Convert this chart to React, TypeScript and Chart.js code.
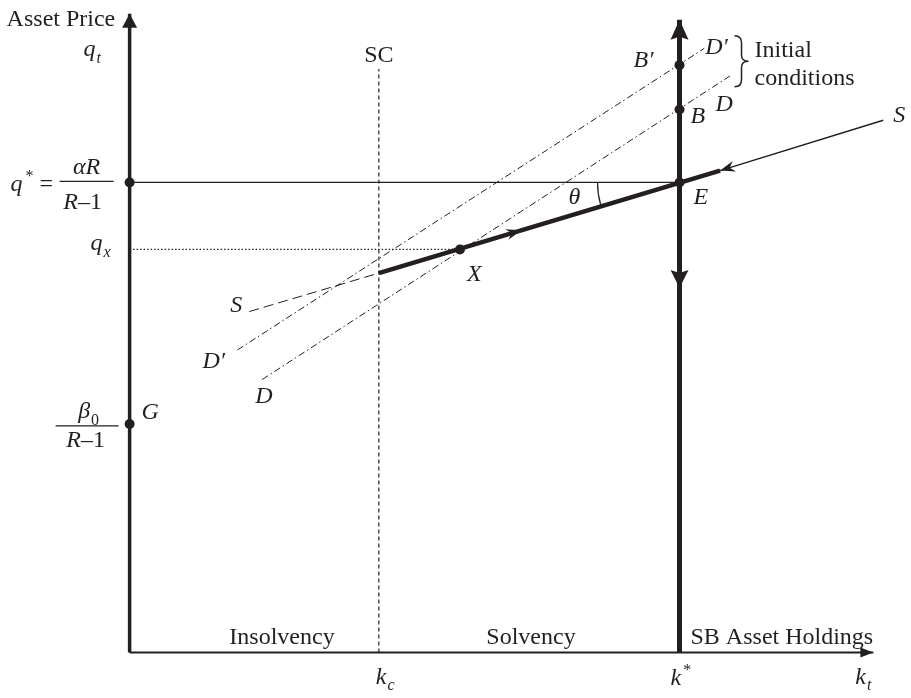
import React, { useEffect, useRef } from "react";
import { Chart, registerables } from "chart.js";
Chart.register(...registerables);

const INK = "#231f20";
const SERIF = '"Liberation Serif", "Times New Roman", serif';

// key levels (data units)
const qStar = 477;
const qX = 409;
const gLevel = 232;
const kC = 252;
const kStar = 556;
const kMax = 752;
const qMax = 648;

const kAxis = [{ x: 0, y: 0 }, { x: kMax, y: 0 }];
const qAxis = [{ x: 0, y: 0 }, { x: 0, y: qMax }];
const kStarAxis = [{ x: kStar, y: 0 }, { x: kStar, y: 642 }];
const kStarDownTip = [{ x: kStar, y: 370 }];
const scLine = [{ x: kC, y: 0 }, { x: kC, y: 592 }];
const qStarLine = [{ x: 0, y: qStar }, { x: kStar, y: qStar }];
const qxLine = [{ x: 0, y: qX }, { x: 334, y: qX }];
const saddleStable = [{ x: kC, y: 385 }, { x: 597, y: 489 }];
const saddleOuter = [{ x: 597, y: 489 }, { x: 762, y: 540 }];
const saddleInsolvent = [{ x: 121, y: 346 }, { x: kC, y: 385 }];
const dLine = [{ x: 134, y: 277 }, { x: 607, y: 585 }];
const dPrimeLine = [{ x: 109, y: 307 }, { x: 581, y: 613 }];
const pointE = { x: kStar, y: qStar };
const pointB = { x: kStar, y: 551 };
const pointBp = { x: kStar, y: 596 };
const pointX = { x: 334, y: qX };
const pointG = { x: 0, y: gLevel };
const pointQ = { x: 0, y: qStar };
const markedPoints = [pointQ, pointG, pointE, pointB, pointBp, pointX];
const flowArrowStable = { x: 396, y: 428.5 };
const flowArrowOuter = { x: 597, y: 489 };
const regionLabels = ["Insolvency", "Solvency", "SB Asset Holdings"];

type Seg = { t: string; it?: boolean; sub?: boolean; sup?: boolean; dx?: number };

function rich(ctx: CanvasRenderingContext2D, segs: Seg[], x: number, y: number, size: number, align: "left" | "center" | "right" = "left") {
  const fontFor = (s: Seg) => `${s.it ? "italic " : ""}${s.sub || s.sup ? Math.round(size * 0.66) : size}px ${SERIF}`;
  let w = 0;
  for (const s of segs) {
    ctx.font = fontFor(s);
    w += ctx.measureText(s.t).width + (s.dx || 0);
  }
  let cx = align === "center" ? x - w / 2 : align === "right" ? x - w : x;
  ctx.textAlign = "left";
  ctx.textBaseline = "alphabetic";
  for (const s of segs) {
    ctx.font = fontFor(s);
    cx += s.dx || 0;
    const oy = s.sub ? size * 0.28 : s.sup ? -size * 0.42 : 0;
    ctx.fillText(s.t, cx, y + oy);
    cx += ctx.measureText(s.t).width;
  }
}

function arrowHead(ctx: CanvasRenderingContext2D, tx: number, ty: number, dx: number, dy: number, len: number, half: number, notch: number) {
  const m = Math.hypot(dx, dy);
  const ux = dx / m, uy = dy / m;
  const nx = -uy, ny = ux;
  ctx.beginPath();
  ctx.moveTo(tx, ty);
  ctx.lineTo(tx - ux * len + nx * half, ty - uy * len + ny * half);
  ctx.lineTo(tx - ux * (len - notch), ty - uy * (len - notch));
  ctx.lineTo(tx - ux * len - nx * half, ty - uy * len - ny * half);
  ctx.closePath();
  ctx.fill();
}

const annotate = {
  id: "annotate",
  afterDatasetsDraw(chart: any) {
    const ctx: CanvasRenderingContext2D = chart.ctx;
    const xs = chart.scales.x, ys = chart.scales.y;
    const X = (v: number) => xs.getPixelForValue(v);
    const Y = (v: number) => ys.getPixelForValue(v);
    ctx.save();
    ctx.fillStyle = INK;
    ctx.strokeStyle = INK;

    // axis arrowheads
    arrowHead(ctx, X(0), Y(qMax), 0, -1, 14, 7.5, 0);
    arrowHead(ctx, X(kMax), Y(0), 1, 0, 13, 5, 0);
    arrowHead(ctx, X(kStar), Y(kStarAxis[1].y), 0, -1, 20, 9, 3);
    arrowHead(ctx, X(kStar), Y(kStarDownTip[0].y), 0, 1, 18, 9, 3);

    // flow arrows along saddle path
    const sdx = X(saddleStable[1].x) - X(saddleStable[0].x);
    const sdy = Y(saddleStable[1].y) - Y(saddleStable[0].y);
    arrowHead(ctx, X(flowArrowStable.x), Y(flowArrowStable.y), sdx, sdy, 15, 5.5, 5);
    const odx = X(saddleOuter[0].x) - X(saddleOuter[1].x);
    const ody = Y(saddleOuter[0].y) - Y(saddleOuter[1].y);
    arrowHead(ctx, X(flowArrowOuter.x), Y(flowArrowOuter.y), odx, ody, 15, 5.5, 5);

    // theta arc
    const ex = X(pointE.x), ey = Y(pointE.y);
    const ang = Math.atan2(-sdy, sdx);
    ctx.lineWidth = 1.2;
    ctx.beginPath();
    ctx.arc(ex, ey, 82, Math.PI - ang, Math.PI);
    ctx.stroke();

    // fraction bars
    const x0 = X(0);
    ctx.lineWidth = 1.2;
    ctx.beginPath();
    ctx.moveTo(x0 - 70, Y(qStar) - 1);
    ctx.lineTo(x0 - 16, Y(qStar) - 1);
    ctx.moveTo(x0 - 74, Y(gLevel) + 2);
    ctx.lineTo(x0 - 11, Y(gLevel) + 2);
    ctx.stroke();

    // brace
    const bx = X(kStar) + 55;
    const bt = Y(qMax) + 22, bb = bt + 51, bm = (bt + bb) / 2;
    ctx.lineWidth = 1.5;
    ctx.beginPath();
    ctx.moveTo(bx, bt);
    ctx.quadraticCurveTo(bx + 7, bt, bx + 7, bt + 7);
    ctx.lineTo(bx + 7, bm - 6);
    ctx.quadraticCurveTo(bx + 7, bm, bx + 14, bm);
    ctx.quadraticCurveTo(bx + 7, bm, bx + 7, bm + 6);
    ctx.lineTo(bx + 7, bb - 7);
    ctx.quadraticCurveTo(bx + 7, bb, bx, bb);
    ctx.stroke();

    const R = 24; // roman size
    const I = 24; // italic size
    rich(ctx, [{ t: "Asset Price" }], x0 - 123, Y(qMax) + 12, R);
    rich(ctx, [{ t: "q", it: true }, { t: "t", it: true, sub: true, dx: 1 }], x0 - 46, Y(qMax) + 42, I);
    rich(ctx, [{ t: "q", it: true }, { t: "*", sup: true, dx: 3 }, { t: " =" }], x0 - 119, Y(qStar) + 9, I);
    rich(ctx, [{ t: "αR", it: true }], x0 - 43, Y(qStar) - 8, I, "center");
    rich(ctx, [{ t: "R", it: true }, { t: "–1" }], x0 - 47, Y(qStar) + 27, I, "center");
    rich(ctx, [{ t: "q", it: true }, { t: "x", it: true, sub: true, dx: 1 }], x0 - 19, Y(qX) + 1, I, "right");
    rich(ctx, [{ t: "β", it: true }, { t: "0", sub: true, dx: 1 }], x0 - 41, Y(gLevel) - 6, I, "center");
    rich(ctx, [{ t: "R", it: true }, { t: "–1" }], x0 - 44, Y(gLevel) + 23, I, "center");
    rich(ctx, [{ t: "G", it: true }], x0 + 12, Y(gLevel) - 5, I);
    rich(ctx, [{ t: "SC" }], X(kC), Y(scLine[1].y) - 7, R, "center");

    const ks = X(kStar);
    rich(ctx, [{ t: "B′", it: true }], ks - 46, Y(pointBp.y) + 2, I);
    rich(ctx, [{ t: "D′", it: true }], X(dPrimeLine[1].x) + 1, Y(dPrimeLine[1].y) + 6, I);
    rich(ctx, [{ t: "Initial" }], bx + 20, bt + 21, R);
    rich(ctx, [{ t: "conditions" }], bx + 20, bt + 49, R);
    rich(ctx, [{ t: "B", it: true }], ks + 11, Y(pointB.y) + 14, I);
    rich(ctx, [{ t: "D", it: true }], ks + 36, Y(pointB.y) + 2, I);
    rich(ctx, [{ t: "S", it: true }], X(saddleOuter[1].x) + 10, Y(saddleOuter[1].y) + 2, I);
    rich(ctx, [{ t: "E", it: true }], ex + 14, ey + 22, I);
    rich(ctx, [{ t: "θ", it: true }], ex - 111, ey + 22, I);
    rich(ctx, [{ t: "X", it: true }], X(pointX.x) + 7, Y(pointX.y) + 32, I);
    rich(ctx, [{ t: "S", it: true }], X(saddleInsolvent[0].x) - 19, Y(saddleInsolvent[0].y), I);
    rich(ctx, [{ t: "D′", it: true }], X(dPrimeLine[0].x) - 35, Y(dPrimeLine[0].y) + 18, I);
    rich(ctx, [{ t: "D", it: true }], X(dLine[0].x) - 7, Y(dLine[0].y) + 23, I);

    const yb = Y(0);
    rich(ctx, [{ t: regionLabels[0] }], 282, yb - 9, R, "center");
    rich(ctx, [{ t: regionLabels[1] }], 531, yb - 9, R, "center");
    rich(ctx, [{ t: regionLabels[2] }], ks + 11, yb - 9, R);
    rich(ctx, [{ t: "k", it: true }, { t: "c", it: true, sub: true, dx: 1 }], X(kC) - 3, yb + 31, I);
    rich(ctx, [{ t: "k", it: true }, { t: "*", sup: true, dx: 2 }], ks - 9, yb + 32, I);
    rich(ctx, [{ t: "k", it: true }, { t: "t", it: true, sub: true, dx: 1 }], X(kMax) - 18, yb + 31, I);

    ctx.restore();
  },
};

function line(data: { x: number; y: number }[], width: number, dash: number[] = []) {
  return {
    data,
    showLine: true,
    borderColor: INK,
    borderWidth: width,
    borderDash: dash,
    pointRadius: 0,
    fill: false,
    clip: false,
  };
}

export default function App() {
  const ref = useRef<HTMLCanvasElement>(null);
  useEffect(() => {
    document.body.style.margin = "0";
    const chart = new Chart(ref.current!, {
      type: "scatter",
      data: {
        datasets: [
          {
            data: markedPoints,
            pointRadius: 5,
            pointBackgroundColor: INK,
            pointBorderWidth: 0,
            showLine: false,
            clip: false,
          } as any,
          line(qAxis, 3.5),
          line(kAxis, 2),
          line(kStarAxis, 5),
          line(saddleStable, 4.5),
          line(saddleOuter, 1.5),
          line(saddleInsolvent, 1, [10, 5]),
          line(qStarLine, 1.2),
          line(qxLine, 1.3, [1.5, 2]),
          line(scLine, 1.2, [4, 3]),
          line(dLine, 1, [7, 3, 1.5, 3]),
          line(dPrimeLine, 1, [7, 3, 1.5, 3]),
        ],
      },
      options: {
        animation: false,
        responsive: false,
        events: [],
        layout: { padding: 0 },
        plugins: { legend: { display: false }, tooltip: { enabled: false } },
        scales: {
          x: { type: "linear", min: -126, max: 785, display: false },
          y: { type: "linear", min: -41, max: 657, display: false },
        },
      },
      plugins: [annotate],
    });
    return () => chart.destroy();
  }, []);
  return (
    <div style={{ position: "absolute", left: 0, top: 0, width: 911, height: 698, background: "#fff" }}>
      <canvas ref={ref} width={911} height={698} />
    </div>
  );
}
